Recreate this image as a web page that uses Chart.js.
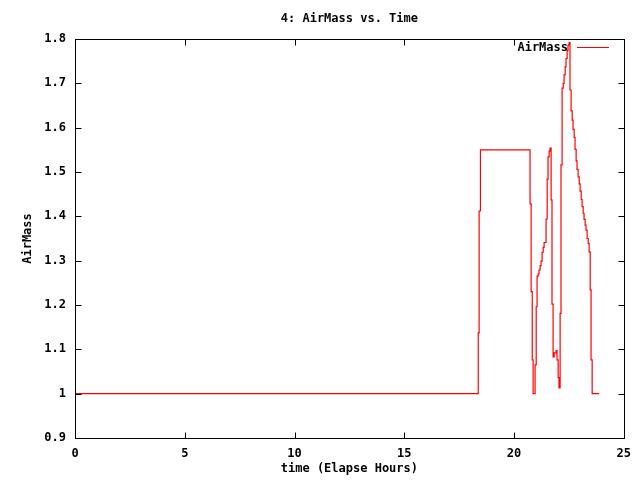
<!DOCTYPE html>
<html>
<head>
<meta charset="utf-8">
<script src="https://cdn.jsdelivr.net/npm/chart.js"></script>
<style>
  body { margin: 0; background: #fff; }
  #wrap { width: 640px; height: 480px; }
</style>
</head>
<body>
<div id="wrap"><canvas id="airMassChart" width="640" height="480"></canvas></div>
<script>
const chartTitle = '4: AirMass vs. Time';
const xLabel = 'time (Elapse Hours)';
const yLabel = 'AirMass';
const seriesName = 'AirMass';

// elapsed hours and airmass
const hours = [
  0, 18.37, 18.41, 18.47, 20.73, 20.78, 20.83, 20.87, 20.96, 21.01,
  21.05, 21.10, 21.14, 21.19, 21.23, 21.28, 21.33, 21.37, 21.46, 21.51,
  21.55, 21.60, 21.64, 21.69, 21.73, 21.78, 21.83, 21.92, 21.96, 22.01,
  22.05, 22.10, 22.14, 22.19, 22.24, 22.28, 22.33, 22.37, 22.42, 22.46,
  22.51, 22.55, 22.60, 22.65, 22.69, 22.74, 22.78, 22.83, 22.87, 22.92,
  22.97, 23.01, 23.06, 23.10, 23.15, 23.19, 23.24, 23.28, 23.33, 23.38,
  23.42, 23.47, 23.51, 23.56, 23.88
];
const airMass = [
  1.0, 1.137, 1.412, 1.55, 1.428, 1.23, 1.076, 1.0, 1.065, 1.196,
  1.265, 1.27, 1.279, 1.289, 1.299, 1.319, 1.33, 1.341, 1.394, 1.484,
  1.534, 1.547, 1.554, 1.437, 1.202, 1.083, 1.092, 1.097, 1.076, 1.036,
  1.013, 1.181, 1.516, 1.689, 1.70, 1.719, 1.737, 1.756, 1.774, 1.786,
  1.792, 1.685, 1.638, 1.617, 1.596, 1.578, 1.551, 1.525, 1.506, 1.489,
  1.473, 1.457, 1.438, 1.422, 1.407, 1.393, 1.380, 1.369, 1.350, 1.339,
  1.32, 1.234, 1.076, 1.0, 1.0
];

const xTicks = [0, 5, 10, 15, 20, 25];
const yTicks = [0.9, 1.0, 1.1, 1.2, 1.3, 1.4, 1.5, 1.6, 1.7, 1.8];

const FONT = 'bold 12px "DejaVu Sans Mono", monospace';

// gnuplot-ish frame: box, inward ticks on all sides, titles and key
const gnuplotFrame = {
  id: 'gnuplotFrame',
  afterDraw(chart) {
    const { ctx, chartArea: a, scales } = chart;
    const L = Math.round(a.left) + 0.5, R = Math.round(a.right) + 0.5;
    const T = Math.round(a.top) + 0.5, B = Math.round(a.bottom) + 0.5;
    ctx.save();
    ctx.strokeStyle = '#000';
    ctx.lineWidth = 1;
    ctx.strokeRect(L, T, R - L, B - T);
    ctx.beginPath();
    xTicks.forEach(v => {
      const px = Math.round(scales.x.getPixelForValue(v)) + 0.5;
      ctx.moveTo(px, B); ctx.lineTo(px, B - 6);
      ctx.moveTo(px, T); ctx.lineTo(px, T + 6);
    });
    yTicks.forEach(v => {
      const py = Math.round(scales.y.getPixelForValue(v)) + 0.5;
      ctx.moveTo(L, py); ctx.lineTo(L + 6, py);
      ctx.moveTo(R, py); ctx.lineTo(R - 6, py);
    });
    ctx.stroke();

    ctx.fillStyle = '#000';
    ctx.font = FONT;
    ctx.textAlign = 'center';
    ctx.textBaseline = 'middle';
    const cx = (a.left + a.right) / 2;
    ctx.fillText(chartTitle, cx, 19);
    ctx.fillText(xLabel, cx, 469);
    ctx.save();
    ctx.translate(28, (a.top + a.bottom) / 2);
    ctx.rotate(-Math.PI / 2);
    ctx.fillText(yLabel, 0, 0);
    ctx.restore();

    // key
    ctx.textAlign = 'right';
    ctx.fillText(seriesName, 568, 48);
    ctx.strokeStyle = '#ff0000';
    ctx.beginPath();
    ctx.moveTo(577, 47.5); ctx.lineTo(609, 47.5);
    ctx.stroke();
    ctx.restore();
  }
};

new Chart(document.getElementById('airMassChart'), {
  type: 'line',
  data: {
    datasets: [{
      label: seriesName,
      data: hours.map((h, i) => ({ x: h, y: airMass[i] })),
      borderColor: '#ff0000',
      borderWidth: 1.2,
      pointRadius: 0,
      stepped: 'before',
      fill: false
    }]
  },
  options: {
    responsive: false,
    animation: false,
    events: [],
    layout: { padding: { top: 39, right: 16, left: 0, bottom: 0 } },
    plugins: {
      legend: { display: false },
      title: { display: false },
      tooltip: { enabled: false }
    },
    scales: {
      x: {
        type: 'linear',
        min: 0,
        max: 25,
        afterFit: s => { s.height = 42; },
        afterBuildTicks: s => { s.ticks = xTicks.map(v => ({ value: v })); },
        grid: { display: false, drawTicks: false },
        border: { display: false },
        ticks: {
          color: '#000',
          font: { family: '"DejaVu Sans Mono", monospace', size: 12, weight: 'bold' },
          padding: 9,
          maxRotation: 0,
          callback: v => String(v)
        }
      },
      y: {
        type: 'linear',
        min: 0.9,
        max: 1.8,
        afterFit: s => { s.width = 75; },
        afterBuildTicks: s => { s.ticks = yTicks.map(v => ({ value: v })); },
        grid: { display: false, drawTicks: false },
        border: { display: false },
        ticks: {
          color: '#000',
          font: { family: '"DejaVu Sans Mono", monospace', size: 12, weight: 'bold' },
          padding: 9,
          callback: v => String(Number(v.toFixed(1)))
        }
      }
    }
  },
  plugins: [gnuplotFrame]
});
</script>
</body>
</html>
